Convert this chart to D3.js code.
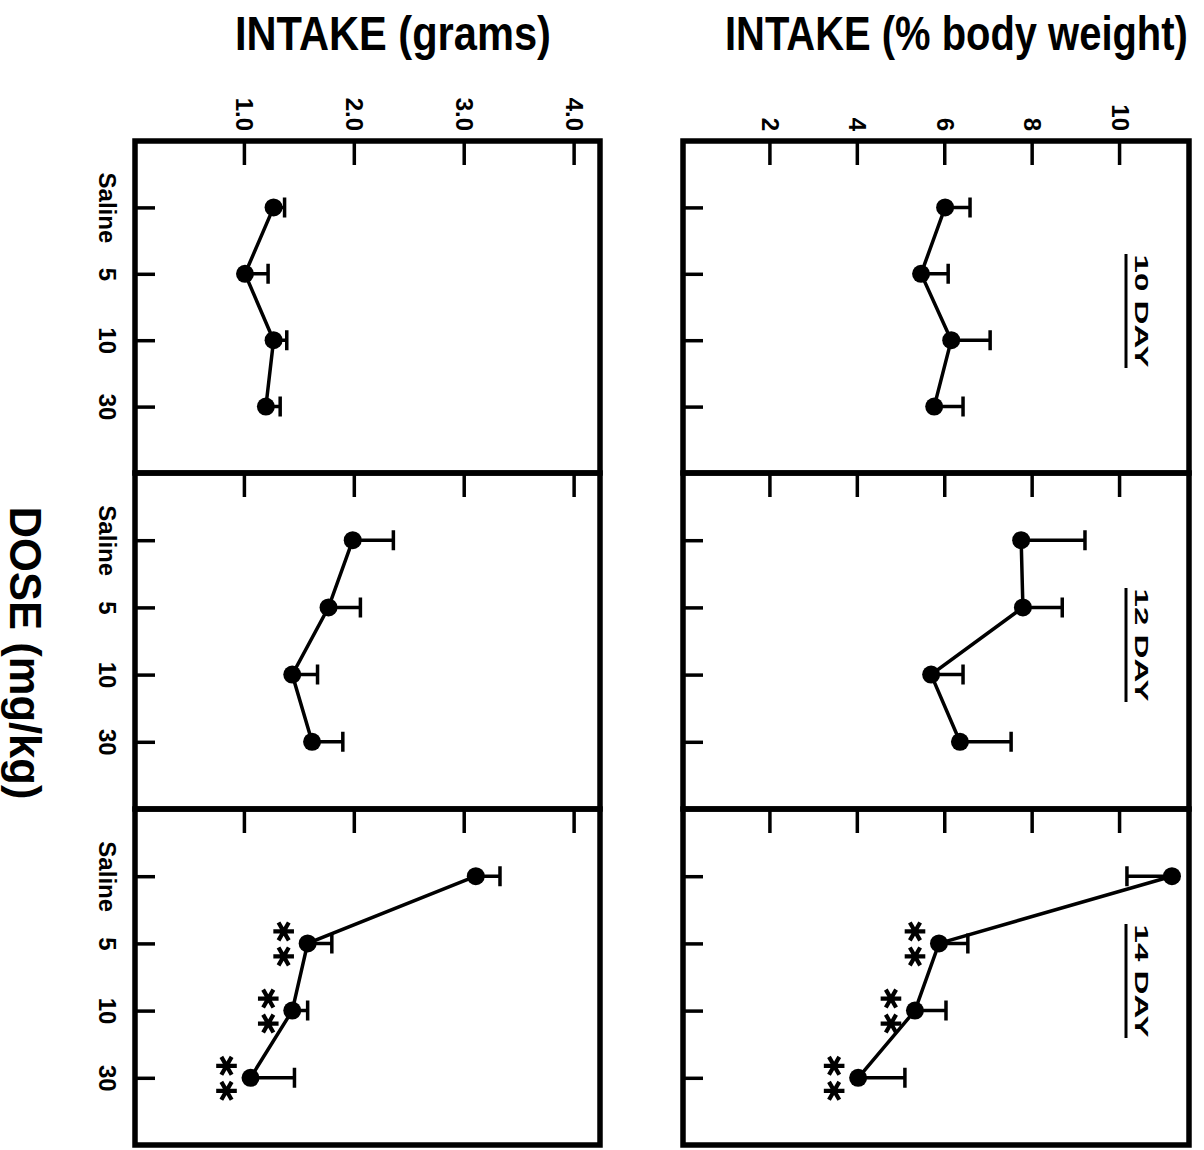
<!DOCTYPE html>
<html><head><meta charset="utf-8">
<script src="https://cdn.jsdelivr.net/npm/d3@7"></script>
<style>body{margin:0;background:#fff}</style>
</head><body><svg id="fig" width="1204" height="1150"></svg>
<script>
// Dose groups, test days and axis ticks
const doses = ["Saline", "5", "10", "30"];
const days = ["10 DAY", "12 DAY", "14 DAY"];
const gramsTicks = [1, 2, 3, 4];
const gramsTickLabels = ["1.0", "2.0", "3.0", "4.0"];
const pctTicks = [2, 4, 6, 8, 10];
const pctTickLabels = ["2", "4", "6", "8", "10"];

// Intake in grams: group means and the end of each error bar (one row per day)
const gramsMean   = [[1.27, 1.01, 1.27, 1.20], [1.99, 1.77, 1.44, 1.62], [3.11, 1.58, 1.44, 1.06]];
const gramsErrEnd = [[1.37, 1.22, 1.39, 1.33], [2.36, 2.06, 1.67, 1.90], [3.33, 1.80, 1.58, 1.46]];

// Intake in % body weight: group means and the end of each error bar
const pctMean   = [[6.02, 5.47, 6.16, 5.77], [7.76, 7.80, 5.70, 6.36], [11.21, 5.88, 5.33, 4.03]];
const pctErrEnd = [[6.59, 6.09, 7.05, 6.43], [9.22, 8.70, 6.43, 7.53], [10.18, 6.54, 6.04, 5.10]];

// Significance marks versus saline
const significance = [["", "", "", ""], ["", "", "", ""], ["", "**", "**", "**"]];

const svg = d3.select("#fig");
const FONT = "'Liberation Sans', Arial, Helvetica, sans-serif";

const rowEdges = [141, 473, 809, 1145];
const columns = [
  { x: d3.scaleLinear().domain([0, 4.24]).range([134, 600]), left: 135, right: 600,
    ticks: gramsTicks, tickLabels: gramsTickLabels, mean: gramsMean, errEnd: gramsErrEnd, doseLabels: true },
  { x: d3.scaleLinear().domain([0, 11.6]).range([682, 1189]), left: 683, right: 1189,
    ticks: pctTicks, tickLabels: pctTickLabels, mean: pctMean, errEnd: pctErrEnd, doseLabels: false }
];

// Column titles, squeezed horizontally into a condensed look
function condensedTitle(label, x0, width, baseline) {
  const t = svg.append("text").style("font", `bold 48px ${FONT}`).text(label);
  const natural = t.node().getComputedTextLength();
  t.attr("transform", `translate(${x0},${baseline}) scale(${width / natural},1)`);
}
condensedTitle("INTAKE  (grams)", 235, 316, 50);
condensedTitle("INTAKE (% body weight)", 725, 463, 50);

// Shared dose label, written downward
svg.append("text").attr("transform", "translate(10,653) rotate(90)")
  .attr("text-anchor", "middle")
  .attr("textLength", 293).attr("lengthAdjust", "spacingAndGlyphs")
  .style("font", `bold 44px ${FONT}`).text("DOSE (mg/kg)");

const asterisk = d3.symbol().type(d3.symbolAsterisk).size(300);

columns.forEach((col, c) => {
  const x = col.x;
  days.forEach((day, r) => {
    const top = rowEdges[r], bottom = rowEdges[r + 1];
    const y = d3.scalePoint().domain(doses).range([top, bottom]).padding(1);
    const g = svg.append("g");

    // inward ticks along the top edge
    const topAxis = g.append("g").attr("transform", `translate(0,${top})`)
      .call(d3.axisTop(x).tickValues(col.ticks).tickSize(-24)
        .tickFormat((d, i) => r === 0 ? col.tickLabels[i] : ""));
    topAxis.select(".domain").remove();
    topAxis.selectAll("line").attr("stroke", "#000").attr("stroke-width", 3.5);
    topAxis.selectAll("text")
      .attr("x", null).attr("y", null).attr("dy", null)
      .attr("transform", "translate(-8,-10) rotate(90)")
      .attr("text-anchor", "end").attr("fill", "#000")
      .style("font", `bold 24px ${FONT}`);

    // inward dose ticks along the left edge
    const leftAxis = g.append("g").attr("transform", `translate(${col.left},0)`)
      .call(d3.axisLeft(y).tickSize(-20).tickFormat(d => col.doseLabels ? d : ""));
    leftAxis.select(".domain").remove();
    leftAxis.selectAll("line").attr("stroke", "#000").attr("stroke-width", 3.5);
    leftAxis.selectAll("text")
      .attr("x", null).attr("y", null).attr("dy", null)
      .attr("transform", "translate(-36,0) rotate(90)")
      .attr("text-anchor", "middle").attr("fill", "#000")
      .style("font", `bold 24px ${FONT}`);

    const pts = doses.map((d, i) => ({ dose: d, v: col.mean[r][i], e: col.errEnd[r][i], sig: significance[r][i] }));

    // error bars with end caps
    g.selectAll(".err").data(pts).join("path")
      .attr("d", d => `M${x(d.v)},${y(d.dose)}H${x(d.e)}M${x(d.e)},${y(d.dose) - 10}V${y(d.dose) + 10}`)
      .attr("fill", "none").attr("stroke", "#000").attr("stroke-width", 3.5);

    // connecting line
    g.append("path").datum(pts)
      .attr("d", d3.line().x(d => x(d.v)).y(d => y(d.dose)))
      .attr("fill", "none").attr("stroke", "#000").attr("stroke-width", 3.5);

    // group means
    g.selectAll(".pt").data(pts).join("circle")
      .attr("cx", d => x(d.v)).attr("cy", d => y(d.dose)).attr("r", 9).attr("fill", "#000");

    // significance asterisks stacked beside each mark
    pts.filter(d => d.sig).forEach(d => {
      d.sig.split("").forEach((s, k) => {
        g.append("path").attr("d", asterisk)
          .attr("transform", `translate(${x(d.v) - 24},${y(d.dose) + (k === 0 ? -12 : 13)}) rotate(90)`)
          .attr("fill", "none").attr("stroke", "#000").attr("stroke-width", 4.2);
      });
    });

    // day label with underline
    if (c === 1) {
      const cy = (top + bottom) / 2 + 4;
      svg.append("text").attr("transform", `translate(1135,${cy}) rotate(90)`)
        .attr("text-anchor", "middle")
        .attr("textLength", 113).attr("lengthAdjust", "spacingAndGlyphs")
        .style("font", `bold 19px ${FONT}`).text(day);
      svg.append("line").attr("x1", 1126).attr("x2", 1126)
        .attr("y1", cy - 57).attr("y2", cy + 57)
        .attr("stroke", "#000").attr("stroke-width", 3);
    }

    // panel frame
    svg.append("rect").attr("x", col.left).attr("y", top)
      .attr("width", col.right - col.left).attr("height", bottom - top)
      .attr("fill", "none").attr("stroke", "#000").attr("stroke-width", 5.5);
  });
});
</script></body></html>
